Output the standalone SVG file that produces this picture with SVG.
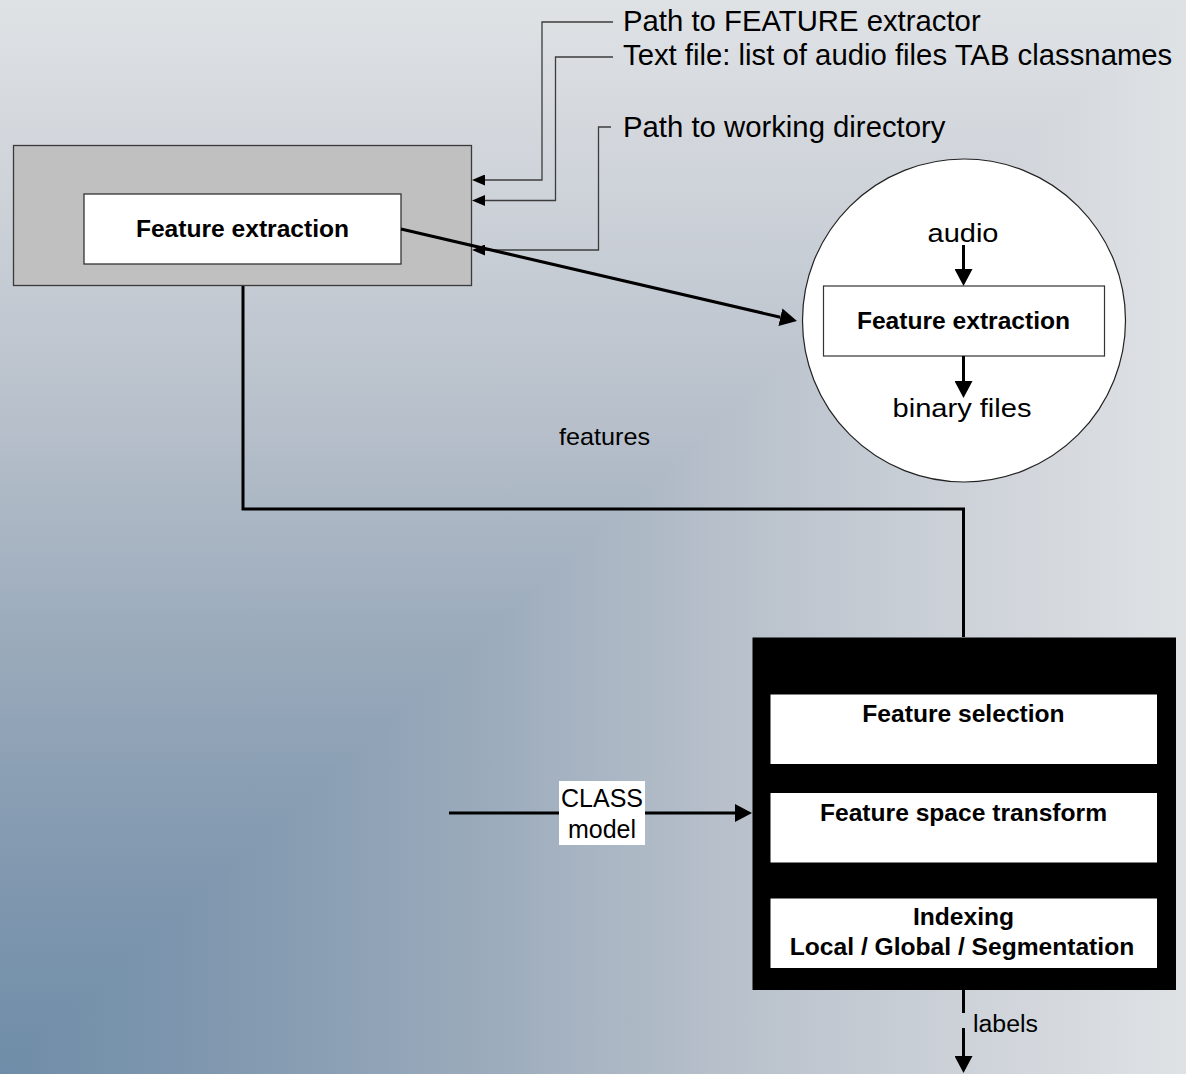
<svg xmlns="http://www.w3.org/2000/svg" width="1186" height="1074" viewBox="0 0 1186 1074">
<style>
.t{font-family:"Liberation Sans",Arial,sans-serif;fill:#000}
.b{font-weight:bold;font-size:24.6px;text-anchor:middle}
.big{font-size:29.3px}
.thin{fill:none;stroke:#3c3c3c;stroke-width:1.3}
.thick{fill:none;stroke:#000;stroke-width:3}
</style>
<defs>
<linearGradient id="bgV" gradientUnits="userSpaceOnUse" x1="0" y1="1074" x2="0" y2="0">
<stop offset="0" stop-color="#6f8da8"/><stop offset="0.2" stop-color="#8299b0"/><stop offset="0.4" stop-color="#9aaabb"/><stop offset="0.6" stop-color="#b6bfca"/><stop offset="0.8" stop-color="#ccd1d8"/><stop offset="1" stop-color="#dfe2e5"/>
</linearGradient>
<linearGradient id="bgH" gradientUnits="userSpaceOnUse" x1="0" y1="0" x2="1186" y2="0">
<stop offset="0" stop-color="#6f8da8"/><stop offset="0.2" stop-color="#8299b0"/><stop offset="0.4" stop-color="#9aaabb"/><stop offset="0.6" stop-color="#b6bfca"/><stop offset="0.8" stop-color="#ccd1d8"/><stop offset="1" stop-color="#dfe2e5"/>
</linearGradient>
<marker id="aS" markerUnits="userSpaceOnUse" markerWidth="13" markerHeight="11" viewBox="0 0 13 11" refX="0" refY="5.5" orient="auto"><path d="M0 0L13 5.5L0 11z" fill="#000"/></marker>
<marker id="aL" markerUnits="userSpaceOnUse" markerWidth="17" markerHeight="18" viewBox="0 0 17 18" refX="0" refY="9" orient="auto"><path d="M0 0L17 9L0 18z" fill="#000"/></marker>
</defs>
<g id="background">
<rect x="0" y="0" width="1186" height="1074" fill="url(#bgV)"/>
<polygon points="0,1074 1186,0 1186,1074" fill="url(#bgH)"/>
</g>
<g id="connectors">
<path class="thin" d="M613 22H542V180H485" marker-end="url(#aS)"/>
<path class="thin" d="M613 57H555.5V200.5H485" marker-end="url(#aS)"/>
<path class="thin" d="M611 127H598.5V250H485" marker-end="url(#aS)"/>
<path class="thick" d="M243 286V509H963.5V637"/>
<path class="thick" d="M449 813H735" marker-end="url(#aL)"/>
<path class="thick" d="M963.5 990V1013"/>
<path class="thick" d="M963.5 1028V1056" marker-end="url(#aL)"/>
</g>
<g id="input-labels">
<text class="t big" x="623" y="31">Path to FEATURE extractor</text>
<text class="t big" x="623" y="65">Text file: list of audio files TAB classnames</text>
<text class="t big" x="623" y="137">Path to working directory</text>
</g>
<g id="feature-extraction-block">
<rect x="13.5" y="145.5" width="458" height="140" fill="#c0c0c0" stroke="#3a3a3a" stroke-width="1.3"/>
<rect x="84" y="194" width="317" height="70" fill="#fff" stroke="#333" stroke-width="1.3"/>
<text class="t b" x="242.5" y="237">Feature extraction</text>
</g>
<g id="feature-extraction-detail">
<circle cx="964" cy="320.5" r="161.5" fill="#fff" stroke="#222" stroke-width="1.2"/>
<rect x="823.5" y="286" width="281" height="70" fill="#fff" stroke="#333" stroke-width="1.2"/>
<text class="t b" x="963.5" y="329">Feature extraction</text>
<text class="t" x="963" y="242" font-size="25" text-anchor="middle" textLength="71" lengthAdjust="spacingAndGlyphs">audio</text>
<text class="t" x="962" y="417" font-size="25" text-anchor="middle" textLength="139" lengthAdjust="spacingAndGlyphs">binary files</text>
<path class="thick" d="M963.5 245V269" marker-end="url(#aL)"/>
<path class="thick" d="M963.5 356V381" marker-end="url(#aL)"/>
</g>
<g id="zoom-arrow">
<path class="thick" d="M401 229L780.4 317.2" marker-end="url(#aL)"/>
</g>
<g id="features-label">
<text class="t" x="604.5" y="445" font-size="24" text-anchor="middle" textLength="91" lengthAdjust="spacingAndGlyphs">features</text>
</g>
<g id="processing-block">
<rect x="752.5" y="637.5" width="423.5" height="352.5" fill="#000"/>
<rect x="770.5" y="694.5" width="386.5" height="69.5" fill="#fff"/>
<rect x="770.5" y="793" width="386.5" height="69.5" fill="#fff"/>
<rect x="770.5" y="898.5" width="386.5" height="69.5" fill="#fff"/>
<text class="t b" x="963.5" y="722">Feature selection</text>
<text class="t b" x="963.5" y="821">Feature space transform</text>
<text class="t b" x="963.5" y="925">Indexing</text>
<text class="t b" x="962" y="955">Local / Global / Segmentation</text>
</g>
<g id="class-model-label">
<rect x="559" y="781" width="86" height="64" fill="#fff"/>
<text class="t" x="602" y="807" font-size="25" text-anchor="middle">CLASS</text>
<text class="t" x="602" y="838" font-size="25" text-anchor="middle">model</text>
</g>
<g id="labels-label">
<text class="t" x="973" y="1032" font-size="23" textLength="65" lengthAdjust="spacingAndGlyphs">labels</text>
</g>
</svg>
